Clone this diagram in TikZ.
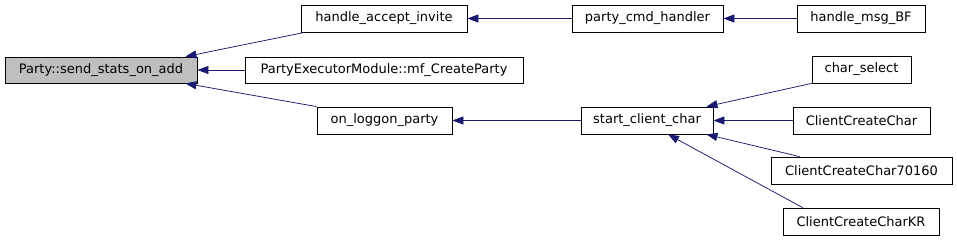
\documentclass[tikz,border=0pt]{standalone}
\usepackage{fontspec}
\setmainfont{DejaVu Sans}
\usetikzlibrary{arrows.meta}
\definecolor{callblue}{HTML}{191970}
\definecolor{curgray}{HTML}{BFBFBF}
\tikzset{
  fn/.style={draw,line width=0.8pt,fill=white,inner sep=0pt,
    font=\fontsize{13}{15}\selectfont},
  call/.style={draw=callblue,line width=0.75pt,
    {Triangle[length=11pt,width=8pt]}-}
}
\begin{document}
\begin{tikzpicture}[x=1pt,y=-1pt]
  \useasboundingbox (0,0) rectangle (957,240);
  % current function
  \node[fn,fill=curgray,minimum width=192pt,minimum height=26pt] (party) at (101,70) {Party::send\_stats\_on\_add};
  % first level callers
  \node[fn,minimum width=166pt,minimum height=27pt] (accept) at (384,18.5) {handle\_accept\_invite};
  \node[fn,minimum width=278pt,minimum height=26pt] (executor) at (384,70) {PartyExecutorModule::mf\_CreateParty};
  \node[fn,minimum width=135pt,minimum height=27pt] (loggon) at (384.5,120.5) {on\_loggon\_party};
  % second level callers
  \node[fn,minimum width=151pt,minimum height=27pt] (cmd) at (647.5,18.5) {party\_cmd\_handler};
  \node[fn,minimum width=132pt,minimum height=27pt] (start) at (647,120.5) {start\_client\_char};
  % third level callers
  \node[fn,minimum width=128pt,minimum height=27pt] (msgbf) at (861,18.5) {handle\_msg\_BF};
  \node[fn,minimum width=99pt,minimum height=27pt] (charsel) at (861.5,69.5) {char\_select};
  \node[fn,minimum width=137pt,minimum height=27pt] (ccc) at (861.5,120.5) {ClientCreateChar};
  \node[fn,minimum width=181pt,minimum height=27pt] (cc7) at (861.5,170.5) {ClientCreateChar70160};
  \node[fn,minimum width=156pt,minimum height=27pt] (cckr) at (861,221.5) {ClientCreateCharKR};
  % calls into Party::send_stats_on_add
  \draw[call] ([xshift=-12pt]party.north east) -- ([xshift=4pt]accept.south west);
  \draw[call] (party) -- (executor);
  \draw[call] ([xshift=-12pt]party.south east) -- (loggon.north west);
  % calls one level up
  \draw[call] (accept) -- (cmd);
  \draw[call] (cmd) -- (msgbf);
  \draw[call] (loggon) -- (start);
  % callers of start_client_char
  \draw[call] ([xshift=-7pt]start.north east) -- (charsel.south west);
  \draw[call] (start) -- (ccc);
  \draw[call] ([xshift=-7pt]start.south east) -- ([xshift=29pt]cc7.north west);
  \draw[call] ([xshift=21pt]start.south) -- ([xshift=20pt]cckr.north west);
\end{tikzpicture}
\end{document}
